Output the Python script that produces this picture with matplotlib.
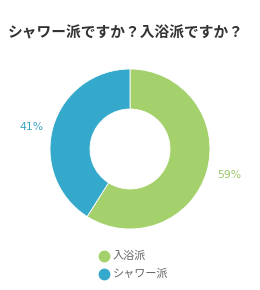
import matplotlib
matplotlib.use("Agg")
import matplotlib.pyplot as plt
from matplotlib.lines import Line2D

plt.rcParams['font.family'] = ['Noto Sans CJK JP', 'DejaVu Sans']

title = "シャワー派ですか？入浴派ですか？"
categories = ["入浴派", "シャワー派"]
values = [59, 41]
colors = ["#a5d16c", "#35a9cb"]
label_colors = ["#9cc76a", "#3aa3c2"]

W, H = 260, 290
fig = plt.figure(figsize=(W/100, H/100), dpi=100)
fig.patch.set_facecolor("white")

cx, cy, R, r = 130, 149, 80, 40
ax = fig.add_axes([(cx-R)/W, 1-(cy+R)/H, 2*R/W, 2*R/H])
wedges, _ = ax.pie(values, colors=colors, startangle=90, counterclock=False,
                   radius=1.0, wedgeprops=dict(width=1-r/R, edgecolor="white", linewidth=0.6))
ax.set_xlim(-1, 1); ax.set_ylim(-1, 1)
ax.set_aspect("equal")
ax.axis("off")

# percentage labels
pos = [(229, 175), (32, 127)]
for v, (x, y), c in zip(values, pos, label_colors):
    fig.text(x/W, 1-y/H, f"{v}%", color=c, fontsize=7.8, ha="center", va="center",
             family=['DejaVu Sans'])

fig.text(8/W, 1-32/H, title, fontsize=10.6, fontweight="bold", color="#333333",
         ha="left", va="center")

# legend
for i, (cat, c) in enumerate(zip(categories, colors)):
    y = 256 + i*18
    fig.lines.append(Line2D([104/W], [1-y/H], marker="o", markersize=7.5, color=c,
                            linestyle="none", transform=fig.transFigure))
    fig.text(113/W, 1-y/H, cat, fontsize=8, color="#666666", ha="left", va="center")

fig.savefig("out.png", dpi=100)
